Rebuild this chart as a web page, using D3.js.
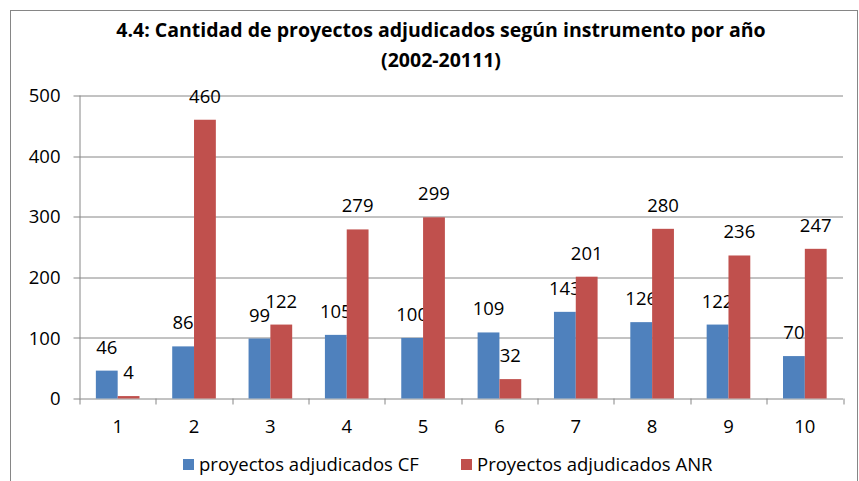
<!DOCTYPE html>
<html>
<head>
<meta charset="utf-8">
<script src="https://cdn.jsdelivr.net/npm/d3@7"></script>
<style>
  body { margin: 0; background: #fff; }
  svg { display: block; font-family: "Open Sans", sans-serif; }
</style>
</head>
<body>
<svg width="859" height="481"></svg>
<script>
// Data
const years = ["1", "2", "3", "4", "5", "6", "7", "8", "9", "10"];
const cf = [46, 86, 99, 105, 100, 109, 143, 126, 122, 70];
const anr = [4, 460, 122, 279, 299, 32, 201, 280, 236, 247];
const yTicks = [0, 100, 200, 300, 400, 500];
const seriesNames = ["proyectos adjudicados CF", "Proyectos adjudicados ANR"];
const colors = ["#4F81BD", "#C0504D"];

const margin = {top: 95.5, right: 16, bottom: 82.5, left: 79.5},
      width = 859 - margin.left - margin.right,
      height = 481 - margin.top - margin.bottom;

const svg = d3.select("svg");

// outer chart frame
svg.append("rect")
  .attr("x", 10.5).attr("y", 10.5)
  .attr("width", 847).attr("height", 490)
  .attr("fill", "none")
  .attr("stroke", "#868686");

// title
const title = svg.append("text")
  .attr("text-anchor", "middle")
  .attr("font-weight", "bold")
  .attr("font-size", 19.5)
  .attr("fill", "#000");
title.append("tspan").attr("x", 441).attr("y", 37)
  .text("4.4: Cantidad de proyectos adjudicados según instrumento por año");
title.append("tspan").attr("x", 441).attr("y", 67)
  .text("(2002-20111)");

const g = svg.append("g")
  .attr("transform", "translate(" + margin.left + "," + margin.top + ")");

const x = d3.scaleBand()
  .domain(years)
  .range([0, width]);

const y = d3.scaleLinear()
  .domain([0, 500])
  .range([height, 0]);

// gridlines
g.selectAll(".grid")
  .data(yTicks)
  .join("line")
    .attr("class", "grid")
    .attr("x1", -6).attr("x2", width)
    .attr("y1", d => Math.round(y(d)) + 0.5)
    .attr("y2", d => Math.round(y(d)) + 0.5)
    .attr("stroke", "#868686");

// y axis
g.append("line")
  .attr("x1", 0.5).attr("x2", 0.5)
  .attr("y1", 0).attr("y2", height)
  .attr("stroke", "#868686");

g.selectAll(".ylab")
  .data(yTicks)
  .join("text")
    .attr("class", "ylab")
    .attr("x", -19)
    .attr("y", d => y(d))
    .attr("dy", "0.36em")
    .attr("text-anchor", "end")
    .attr("font-size", 18.5)
    .text(d => d);

// x axis ticks at category boundaries
const bounds = years.map(d => x(d)).concat([width]);
g.selectAll(".xtick")
  .data(bounds)
  .join("line")
    .attr("class", "xtick")
    .attr("x1", d => Math.round(d) + 0.5).attr("x2", d => Math.round(d) + 0.5)
    .attr("y1", height).attr("y2", height + 6)
    .attr("stroke", "#868686");

g.selectAll(".xlab")
  .data(years)
  .join("text")
    .attr("class", "xlab")
    .attr("x", d => x(d) + x.bandwidth() / 2)
    .attr("y", height + 34)
    .attr("text-anchor", "middle")
    .attr("font-size", 18.5)
    .text(d => d);

// bars: gap width 150% like Excel
const barW = x.bandwidth() / 3.5;
const series = [cf, anr];

series.forEach((vals, si) => {
  const bx = (d, i) => x(years[i]) + barW * 0.75 + si * barW;
  g.selectAll(".bar" + si)
    .data(vals)
    .join("rect")
      .attr("class", "bar" + si)
      .attr("x", bx)
      .attr("y", d => y(d))
      .attr("width", barW)
      .attr("height", d => height - y(d))
      .attr("fill", colors[si]);

  g.selectAll(".lab" + si)
    .data(vals)
    .join("text")
      .attr("class", "lab" + si)
      .attr("x", (d, i) => bx(d, i) + barW / 2)
      .attr("y", d => y(d) - 17)
      .attr("text-anchor", "middle")
      .attr("font-size", 18.5)
      .text(d => d);
});

// legend
const legendX = [183, 461];
const legend = svg.selectAll(".legend")
  .data(seriesNames)
  .join("g")
    .attr("class", "legend")
    .attr("transform", (d, i) => "translate(" + legendX[i] + ",459)");
legend.append("rect")
  .attr("width", 11).attr("height", 11)
  .attr("fill", (d, i) => colors[i]);
legend.append("text")
  .attr("x", 16)
  .attr("y", 5.5)
  .attr("dy", "0.36em")
  .attr("font-size", 18.5)
  .text(d => d);
</script>
</body>
</html>
